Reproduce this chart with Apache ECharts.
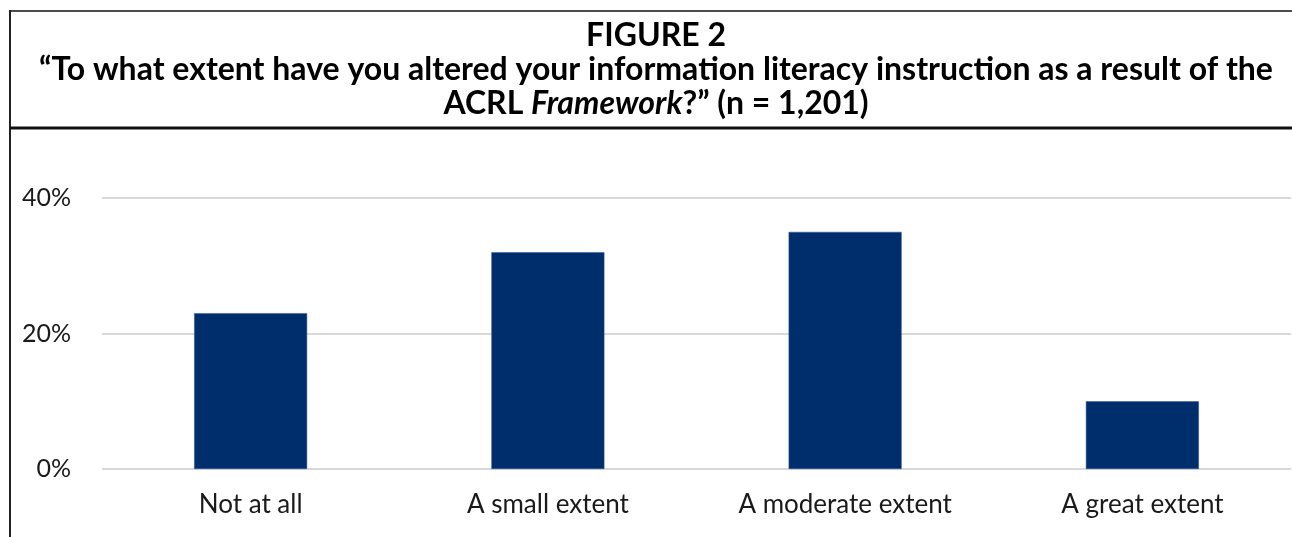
<!DOCTYPE html>
<html>
<head>
    <meta charset="UTF-8">
    <title>Figure 2</title>
    <script src="https://cdn.jsdelivr.net/npm/echarts@6/dist/echarts.min.js"></script>
    <style>
        html, body { margin: 0; padding: 0; background: #fff; }
        #chart { width: 1292px; height: 537px; }
    </style>
</head>
<body>
<div id="chart"></div>
<script type="text/javascript">
    // 数据
    var categories = ['Not at all', 'A small extent', 'A moderate extent', 'A great extent'];
    var percents = [23, 32, 35, 10];
    var yTicks = [0, 20, 40];

    var titleFont = 'Lato, "Open Sans", sans-serif';

    var myChart = echarts.init(document.getElementById('chart'));

    var option = {
        animation: false,
        graphic: [
            // 外框：左边线和上边线
            { type: 'line', shape: { x1: 10, y1: 11, x2: 1292, y2: 11 }, style: { stroke: '#4d4d4d', lineWidth: 2 } },
            { type: 'line', shape: { x1: 10, y1: 10, x2: 10, y2: 537 }, style: { stroke: '#222', lineWidth: 2 } },
            // 标题下的分隔线
            { type: 'line', shape: { x1: 10, y1: 128, x2: 1292, y2: 128 }, style: { stroke: '#111', lineWidth: 3 } },
            {
                type: 'text', x: 656, y: 36,
                style: { text: 'FIGURE 2', align: 'center', verticalAlign: 'middle',
                    font: 'bold 32px ' + titleFont, fill: '#000' }
            },
            {
                type: 'text', x: 656, y: 70,
                style: { text: '\u201cTo what extent have you altered your information literacy instruction as a result of the',
                    align: 'center', verticalAlign: 'middle', font: 'bold 32px ' + titleFont, fill: '#000' }
            },
            {
                type: 'text', x: 656, y: 104,
                style: {
                    text: 'ACRL {i|Framework}?\u201d (n = 1,201)',
                    align: 'center', verticalAlign: 'middle', font: 'bold 32px ' + titleFont, fill: '#000',
                    rich: { i: { fontStyle: 'italic', fontWeight: 'bold', fontSize: 32, fontFamily: titleFont } }
                }
            }
        ],
        grid: {
            left: 102,
            right: 1,
            top: 198,
            bottom: 68,
            containLabel: false
        },
        xAxis: {
            type: 'category',
            data: categories,
            axisLine: { show: false },
            axisTick: { show: false },
            axisLabel: {
                margin: 23,
                fontSize: 26,
                fontFamily: titleFont,
                color: '#1a1a1a'
            }
        },
        yAxis: {
            type: 'value',
            min: yTicks[0],
            max: yTicks[yTicks.length - 1],
            interval: yTicks[1] - yTicks[0],
            axisLine: { show: false },
            axisTick: { show: false },
            axisLabel: {
                formatter: '{value}%',
                margin: 31,
                fontSize: 25,
                fontFamily: titleFont,
                color: '#1a1a1a'
            },
            splitLine: { lineStyle: { color: '#d9d9d9', width: 2 } }
        },
        series: [{
            type: 'bar',
            data: percents,
            barWidth: 113,
            itemStyle: { color: '#002e6d', borderColor: '#2a5a99', borderWidth: 0.5 }
        }]
    };
    myChart.setOption(option);
</script>
</body>
</html>
